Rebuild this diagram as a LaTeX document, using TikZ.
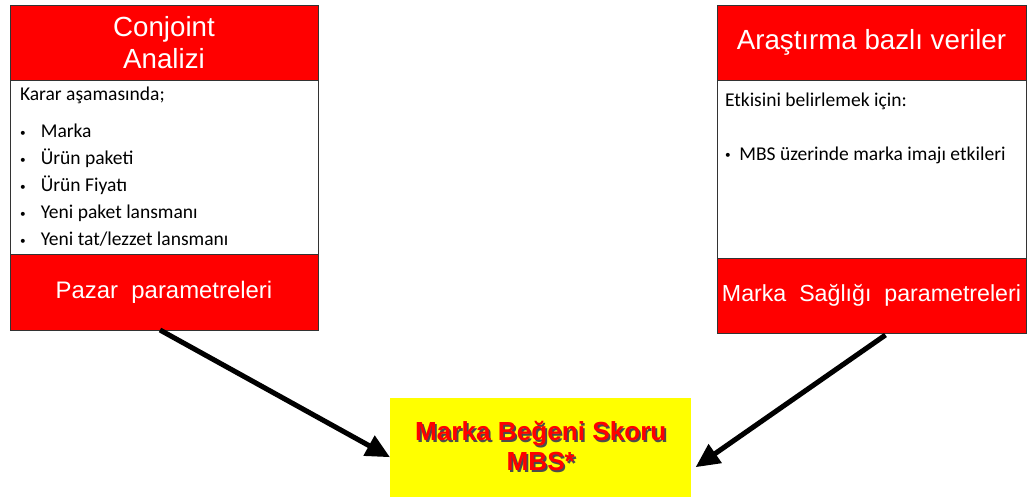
\documentclass[tikz,border=0pt]{standalone}
\usepackage{fontspec}
\setmainfont{Liberation Sans}
\newfontfamily\bodyfont{Carlito}
\usetikzlibrary{positioning, arrows.meta}

\definecolor{boxred}{RGB}{255,0,0}
\definecolor{boxyellow}{RGB}{255,255,0}
\newcommand{\shadowed}[1]{\rlap{\hspace{1.2pt}\raisebox{-1.2pt}{\color{black!70}#1}}#1}
\newcommand{\smallbullet}{\raisebox{0.15ex}{\footnotesize\textbullet}}

\begin{document}
\begin{tikzpicture}[>=stealth,
    redbox/.style={draw=black!80, line width=0.6pt, fill=boxred, text=white, align=center,
        inner sep=0pt, outer sep=0pt, font=\fontsize{17}{21}\selectfont},
    titlefont/.style={font=\fontsize{19.7}{23.2}\selectfont},
    whitebox/.style={draw=black!80, line width=0.6pt, fill=white, inner sep=0pt, outer sep=0pt,
        font=\bodyfont\fontsize{13.9}{19.2}\selectfont},
    bigarrow/.style={line width=3.6pt, -{Triangle[length=0.6cm, width=0.55cm]}}]
    \useasboundingbox (0,0) rectangle (25.675,-12.425);
    % linker blok
    \node[redbox, titlefont, anchor=north west, minimum width=7.7cm, minimum height=1.875cm] (conjoint) at (0.25,-0.125) {Conjoint\\Analizi};
    \node[whitebox, below=0pt of conjoint] (karar) {%
        \begin{minipage}[c][4.35cm][t]{7.7cm}
        \vspace{0.04cm}\hspace{0.25cm}%
        \begin{tabular}{@{}l@{\hspace{0.38cm}}l@{}}
        \multicolumn{2}{@{}l@{}}{Karar aşamasında;}\\[0.25cm]
        \smallbullet & Marka\\
        \smallbullet & Ürün paketi\\
        \smallbullet & Ürün Fiyatı\\
        \smallbullet & Yeni paket lansmanı\\
        \smallbullet & Yeni tat/lezzet lansmanı\\
        \end{tabular}
        \end{minipage}};
    \node[redbox, below=0pt of karar, minimum width=7.7cm, minimum height=1.9cm] (pazar) {Pazar\ \ parametreleri};
    % sagdaki blok
    \node[redbox, titlefont, anchor=north west, minimum width=7.725cm, minimum height=1.875cm] (arastirma) at (17.925,-0.125) {Araştırma bazlı veriler};
    \node[whitebox, below=0pt of arastirma] (etki) {%
        \begin{minipage}[c][4.45cm][t]{7.725cm}
        \vspace{0.2cm}\hspace{0.2cm}%
        \begin{tabular}{@{}l@{\hspace{0.22cm}}l@{}}
        \multicolumn{2}{@{}l@{}}{Etkisini belirlemek için:}\\[0.66cm]
        \smallbullet & MBS üzerinde marka imajı etkileri\\
        \end{tabular}
        \end{minipage}};
    \node[redbox, below=0pt of etki, minimum width=7.725cm, minimum height=1.875cm,
          font=\fontsize{16.5}{21}\selectfont] (saglik) {Marka\ \ Sağlığı\ \ parametreleri};
    % hedef
    \node[fill=boxyellow, text=boxred, align=center, minimum width=7.525cm, minimum height=2.475cm,
          font=\bfseries\fontsize{18.6}{21.5}\selectfont, anchor=south west] (mbs) at (9.75,-12.425)
        {\shadowed{Marka\ Beğeni\ Skoru}\\\shadowed{MBS*}};
    \draw[bigarrow] ([xshift=-0.1cm]pazar.south) -- ([yshift=-0.25cm]mbs.west);
    \draw[bigarrow] ([xshift=0.35cm, yshift=-0.05cm]saglik.south) -- ([xshift=0.1cm, yshift=-0.5cm]mbs.east);
\end{tikzpicture}
\end{document}
